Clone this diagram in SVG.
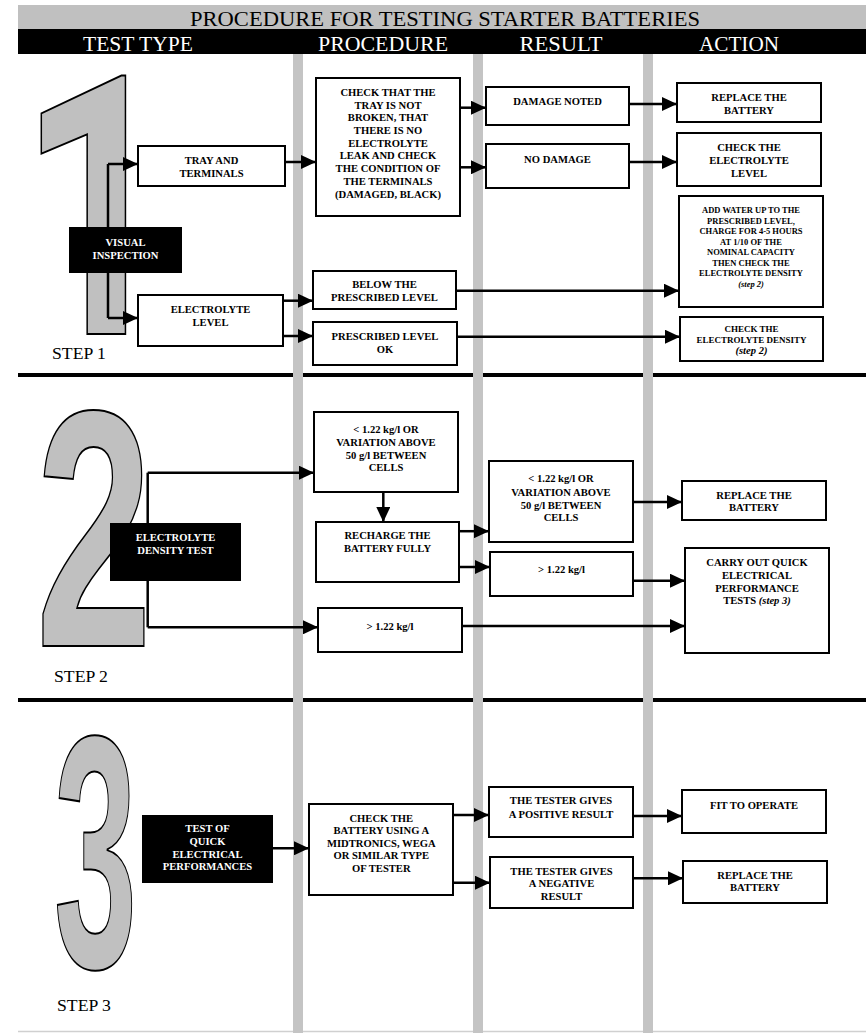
<svg xmlns="http://www.w3.org/2000/svg" width="866" height="1033" viewBox="0 0 866 1033">
<style>
.box{fill:#fff;stroke:#000;stroke-width:2}
.blk{fill:#000}
.t{font-family:"Liberation Serif","Times New Roman",serif;font-weight:bold;font-size:10.6px;text-anchor:middle;fill:#000}
.s{font-size:8.5px}
.m{font-size:9px}
.w{fill:#fff}
.hd{font-family:"Liberation Serif","Times New Roman",serif;font-size:22px;text-anchor:middle}
.step{font-family:"Liberation Serif","Times New Roman",serif;font-size:17.7px;fill:#000}
.dig{font-family:"Liberation Sans",Arial,sans-serif;font-weight:bold;fill:#c0c0c0;stroke:#000;stroke-width:2;text-anchor:middle}
.one{font-family:Roboto,"Open Sans",sans-serif}
.sep{stroke:#000;stroke-width:4}
.bar{fill:#c4c4c4}
.c{stroke:#000;stroke-width:2.5;fill:none}
.a{marker-end:url(#ah)}
</style>
<defs>
<marker id="ah" markerUnits="userSpaceOnUse" markerWidth="15" markerHeight="14" refX="15" refY="7" orient="auto"><path d="M0,0 L15,7 L0,14 z" fill="#000"/></marker>
</defs>
<rect width="866" height="1033" fill="#fff"/>
<g id="header">
<rect x="18" y="5" width="848" height="24" fill="#c0c0c0"/>
<rect x="18" y="29" width="848" height="25" fill="#000"/>
<text x="445" y="26" class="hd" font-size="21" textLength="510" lengthAdjust="spacingAndGlyphs" fill="#000">PROCEDURE FOR TESTING STARTER BATTERIES</text>
<text x="138" y="51" class="hd" fill="#fff" textLength="110" lengthAdjust="spacingAndGlyphs">TEST TYPE</text>
<text x="383" y="51" class="hd" fill="#fff" textLength="130" lengthAdjust="spacingAndGlyphs">PROCEDURE</text>
<text x="561" y="51" class="hd" fill="#fff" textLength="83" lengthAdjust="spacingAndGlyphs">RESULT</text>
<text x="739" y="51" class="hd" fill="#fff" textLength="80" lengthAdjust="spacingAndGlyphs">ACTION</text>
</g>
<g id="separators">
<line x1="18" y1="375" x2="866" y2="375" class="sep"/>
<line x1="18" y1="700" x2="866" y2="700" class="sep"/>
<line x1="18" y1="1031.5" x2="866" y2="1031.5" stroke="#d0d0d0" stroke-width="1.5"/>
</g>
<g id="lanes">
<rect x="293" y="54" width="10" height="979" class="bar"/>
<rect x="473" y="54" width="10" height="979" class="bar"/>
<rect x="643" y="54" width="10" height="979" class="bar"/>
</g>
<g id="digits">
<text class="dig one" transform="translate(97,334) scale(0.75,1)" font-size="363">1</text>
<text class="dig" transform="translate(94,646) scale(0.62,1)" font-size="338">2</text>
<text class="dig" transform="translate(95.5,967) scale(0.45,1)" font-size="332">3</text>
</g>
<g id="steps">
<text x="52" y="359" class="step">STEP 1</text>
<text x="54" y="681.7" class="step">STEP 2</text>
<text x="57" y="1010.7" class="step">STEP 3</text>
</g>
<g id="connectors">
<path class="c" d="M108,164 V318"/>
<path class="c a" d="M108,164 H138"/>
<path class="c a" d="M108,318 H138"/>
<path class="c a" d="M285,162 H316"/>
<path class="c a" d="M283,300.7 H313"/>
<path class="c a" d="M283,336 H313"/>
<path class="c a" d="M460,107.7 H486"/>
<path class="c a" d="M460,167.3 H486"/>
<path class="c a" d="M629,104 H677"/>
<path class="c a" d="M629,162 H677"/>
<path class="c a" d="M456,290.7 H679"/>
<path class="c a" d="M457,336.7 H680"/>
<path class="c" d="M147.7,472.7 V627.3"/>
<path class="c a" d="M147.7,472.7 H314"/>
<path class="c a" d="M147.7,627.3 H318"/>
<path class="c a" d="M383.3,492 V522"/>
<path class="c a" d="M459,531.2 H489"/>
<path class="c a" d="M459,567 H490"/>
<path class="c a" d="M462,626 H685"/>
<path class="c a" d="M633,502 H682"/>
<path class="c a" d="M633,580.7 H685"/>
<path class="c a" d="M273,848.3 H309"/>
<path class="c a" d="M453,815 H489"/>
<path class="c a" d="M453,882.7 H490"/>
<path class="c a" d="M633,816 H682"/>
<path class="c a" d="M633,878.3 H683"/>
</g>
<g id="visual-inspection"><rect x="69" y="227" width="113" height="46" class="blk"/><text class="t w" x="125.5" y="246">VISUAL</text><text class="t w" x="125.5" y="259">INSPECTION</text></g>
<g id="tray"><rect x="138" y="146" width="147" height="40" class="box"/><text class="t" x="211.5" y="163.5">TRAY AND</text><text class="t" x="211.5" y="176.5">TERMINALS</text></g>
<g id="electrolyte-level"><rect x="138" y="295" width="145" height="51" class="box"/><text class="t" x="210.5" y="312.5">ELECTROLYTE</text><text class="t" x="210.5" y="325.5">LEVEL</text></g>
<g id="check-tray"><rect x="316" y="78" width="144" height="138" class="box"/>
<text class="t" x="388" y="96">CHECK THAT THE</text>
<text class="t" x="388" y="108.6">TRAY IS NOT</text>
<text class="t" x="388" y="121.3">BROKEN, THAT</text>
<text class="t" x="388" y="134">THERE IS NO</text>
<text class="t" x="388" y="146.7">ELECTROLYTE</text>
<text class="t" x="388" y="159.4">LEAK AND CHECK</text>
<text class="t" x="388" y="172.1">THE CONDITION OF</text>
<text class="t" x="388" y="184.8">THE TERMINALS</text>
<text class="t" x="388" y="197.5">(DAMAGED, BLACK)</text></g>
<g id="damage-noted"><rect x="486" y="87" width="143" height="38" class="box"/><text class="t" x="557.5" y="105.3">DAMAGE NOTED</text></g>
<g id="no-damage"><rect x="486" y="144" width="143" height="44" class="box"/><text class="t" x="557.5" y="162.6">NO DAMAGE</text></g>
<g id="replace-1"><rect x="677" y="83" width="144" height="39" class="box"/><text class="t" x="749" y="101">REPLACE THE</text><text class="t" x="749" y="113.6">BATTERY</text></g>
<g id="check-level"><rect x="677" y="133" width="144" height="53" class="box"/><text class="t" x="749" y="151.3">CHECK THE</text><text class="t" x="749" y="164.3">ELECTROLYTE</text><text class="t" x="749" y="177">LEVEL</text></g>
<g id="add-water"><rect x="679" y="196" width="144" height="111" class="box"/>
<text class="t s" x="751" y="213">ADD WATER UP TO THE</text>
<text class="t s" x="751" y="223.6">PRESCRIBED LEVEL,</text>
<text class="t s" x="751" y="234">CHARGE FOR 4-5 HOURS</text>
<text class="t s" x="751" y="244.6">AT 1/10 OF THE</text>
<text class="t s" x="751" y="255.2">NOMINAL CAPACITY</text>
<text class="t s" x="751" y="265.6">THEN CHECK THE</text>
<text class="t s" x="751" y="276.2">ELECTROLYTE DENSITY</text>
<text class="t s" x="751" y="287.2" font-style="italic">(step 2)</text></g>
<g id="below-level"><rect x="313" y="271" width="143" height="38" class="box"/><text class="t" x="384.5" y="287.6">BELOW THE</text><text class="t" x="384.5" y="300.6">PRESCRIBED LEVEL</text></g>
<g id="level-ok"><rect x="313" y="322" width="144" height="43" class="box"/><text class="t" x="385" y="339.6">PRESCRIBED LEVEL</text><text class="t" x="385" y="352.6">OK</text></g>
<g id="check-density"><rect x="680" y="317" width="143" height="44" class="box"/><text class="t m" x="751.5" y="332.4">CHECK THE</text><text class="t m" x="751.5" y="343.1">ELECTROLYTE DENSITY</text><text class="t" x="751.5" y="353.8" font-size="7" font-style="italic">(step 2)</text></g>
<g id="density-test"><rect x="110" y="523" width="131" height="58" class="blk"/><text class="t w" x="175.5" y="541">ELECTROLYTE</text><text class="t w" x="175.5" y="553.7">DENSITY TEST</text></g>
<g id="low-density"><rect x="314" y="412" width="144" height="80" class="box"/>
<text class="t" x="386" y="432.6">&lt; 1.22 kg/l OR</text>
<text class="t" x="386" y="445.9">VARIATION ABOVE</text>
<text class="t" x="386" y="458.6">50 g/l BETWEEN</text>
<text class="t" x="386" y="471.3">CELLS</text></g>
<g id="recharge"><rect x="316" y="522" width="143" height="60" class="box"/><text class="t" x="387.5" y="539">RECHARGE THE</text><text class="t" x="387.5" y="551.6">BATTERY FULLY</text></g>
<g id="high-density"><rect x="318" y="608" width="144" height="44" class="box"/><text class="t" x="390" y="629.6">&gt; 1.22 kg/l</text></g>
<g id="low-density-result"><rect x="489" y="461" width="144" height="81" class="box"/>
<text class="t" x="561" y="482.3">&lt; 1.22 kg/l OR</text>
<text class="t" x="561" y="495.6">VARIATION ABOVE</text>
<text class="t" x="561" y="508.6">50 g/l BETWEEN</text>
<text class="t" x="561" y="521.3">CELLS</text></g>
<g id="high-density-result"><rect x="490" y="552" width="143" height="44" class="box"/><text class="t" x="561.5" y="573">&gt; 1.22 kg/l</text></g>
<g id="replace-2"><rect x="682" y="481" width="144" height="39" class="box"/><text class="t" x="754" y="498.6">REPLACE THE</text><text class="t" x="754" y="511.3">BATTERY</text></g>
<g id="carry-out"><rect x="685" y="548" width="144" height="105" class="box"/>
<text class="t" x="757" y="566.3">CARRY OUT QUICK</text>
<text class="t" x="757" y="579">ELECTRICAL</text>
<text class="t" x="757" y="591.6">PERFORMANCE</text>
<text class="t" x="757" y="604.3">TESTS <tspan font-style="italic">(step 3)</tspan></text></g>
<g id="quick-test"><rect x="142" y="815" width="131" height="68" class="blk"/>
<text class="t w" x="207.5" y="832">TEST OF</text>
<text class="t w" x="207.5" y="845">QUICK</text>
<text class="t w" x="207.5" y="857.6">ELECTRICAL</text>
<text class="t w" x="207.5" y="870.3">PERFORMANCES</text></g>
<g id="check-battery"><rect x="309" y="804" width="144" height="91" class="box"/>
<text class="t" x="381.3" y="821.6">CHECK THE</text>
<text class="t" x="381.3" y="834.3">BATTERY USING A</text>
<text class="t" x="381.3" y="847">MIDTRONICS, WEGA</text>
<text class="t" x="381.3" y="859.3">OR SIMILAR TYPE</text>
<text class="t" x="381.3" y="872.3">OF TESTER</text></g>
<g id="positive"><rect x="489" y="787" width="144" height="50" class="box"/><text class="t" x="561" y="804.3">THE TESTER GIVES</text><text class="t" x="561" y="817.6">A POSITIVE RESULT</text></g>
<g id="negative"><rect x="490" y="857" width="143" height="51" class="box"/><text class="t" x="561.5" y="874.6">THE TESTER GIVES</text><text class="t" x="561.5" y="887.3">A NEGATIVE</text><text class="t" x="561.5" y="900">RESULT</text></g>
<g id="fit"><rect x="682" y="790" width="144" height="43" class="box"/><text class="t" x="754" y="808.6">FIT TO OPERATE</text></g>
<g id="replace-3"><rect x="683" y="861" width="144" height="42" class="box"/><text class="t" x="755" y="878.6">REPLACE THE</text><text class="t" x="755" y="891.3">BATTERY</text></g>
</svg>
